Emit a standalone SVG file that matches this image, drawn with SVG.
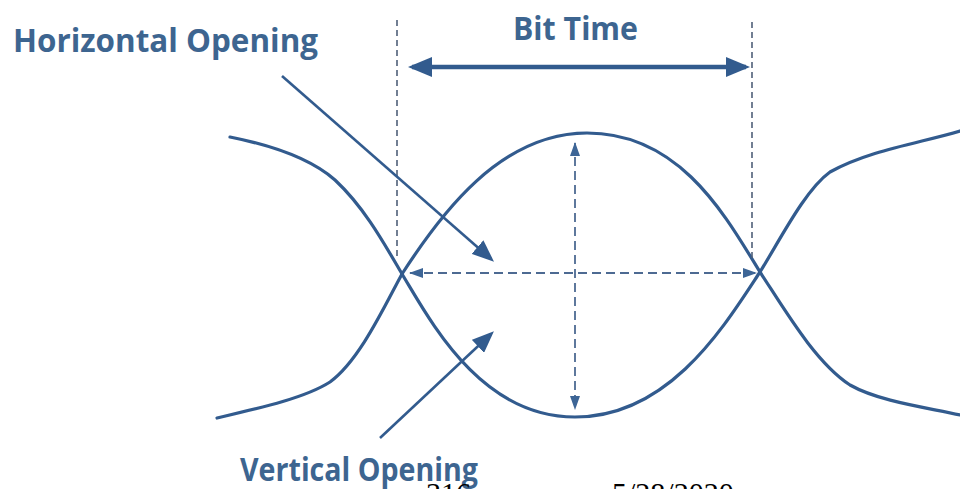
<svg xmlns="http://www.w3.org/2000/svg" width="960" height="489" viewBox="0 0 960 489">
<style>
.lbl{font-family:"Open Sans","Liberation Sans",sans-serif;font-weight:700;fill:#3d6590}
.foot{font-family:"Liberation Serif","Times New Roman",serif;fill:#000}
.wave{fill:none;stroke:#325b8e;stroke-width:3.2;stroke-linecap:round;stroke-linejoin:round}
.guide{fill:none;stroke:#4f5f78;stroke-width:1.6;stroke-dasharray:6 4}
.meas{fill:none;stroke:#4d6a92;stroke-width:1.8;stroke-dasharray:9 5}
.ptr{fill:none;stroke:#325b8e;stroke-width:2.6}
.bit{fill:none;stroke:#325b8e;stroke-width:4.5}
</style>
<defs>
<marker id="bigHead" markerUnits="userSpaceOnUse" markerWidth="24" markerHeight="20" refX="20" refY="10" orient="auto-start-reverse">
<path d="M0,0 L24,10 L0,20 Z" fill="#325b8e"/>
</marker>
<marker id="ptrHead" markerUnits="userSpaceOnUse" markerWidth="22" markerHeight="18" refX="18" refY="9" orient="auto">
<path d="M0,0 L22,9 L0,18 Z" fill="#325b8e"/>
</marker>
<marker id="smallHead" markerUnits="userSpaceOnUse" markerWidth="14" markerHeight="10" refX="13" refY="5" orient="auto-start-reverse">
<path d="M0,0 L14,5 L0,10 Z" fill="#3d6596"/>
</marker>
</defs>
<rect width="960" height="489" fill="#fff"/>

<g id="eye-diagram">
<path class="wave" d="M217,418 C260,408 305,398 330,382 C360,360 385,305 402,274 C440,215 500,133 587,133 C680,133 725,215 760,272 C785,310 815,362 850,385 C880,402 930,408 960,415"/>
<path class="wave" d="M230,137 C270,145 310,158 335,180 C365,208 385,245 402,274 C430,320 480,417 575,417 C670,417 725,325 760,272 C780,240 805,190 830,172 C870,150 920,143 960,131"/>
</g>

<g id="connectors">
<line class="guide" x1="397" y1="20" x2="397" y2="256"/>
<line class="guide" x1="752" y1="22" x2="752" y2="262"/>
<line class="bit" x1="412" y1="67" x2="746" y2="67" marker-start="url(#bigHead)" marker-end="url(#bigHead)"/>
<line class="meas" x1="410" y1="273" x2="756" y2="273" marker-start="url(#smallHead)" marker-end="url(#smallHead)"/>
<line class="meas" x1="575" y1="143" x2="575" y2="409" marker-start="url(#smallHead)" marker-end="url(#smallHead)"/>
<line class="ptr" x1="282" y1="76" x2="491" y2="259" marker-end="url(#ptrHead)"/>
<line class="ptr" x1="380" y1="438" x2="491" y2="334" marker-end="url(#ptrHead)"/>
</g>

<g id="label-horizontal">
<text class="lbl" x="13" y="52" font-size="33" textLength="305" lengthAdjust="spacingAndGlyphs">Horizontal Opening</text>
</g>
<g id="label-bittime">
<text class="lbl" x="513" y="40" font-size="32" textLength="125" lengthAdjust="spacingAndGlyphs">Bit Time</text>
</g>
<g id="label-vertical">
<text class="lbl" x="240" y="481" font-size="32" textLength="238" lengthAdjust="spacingAndGlyphs">Vertical Opening</text>
</g>
<g id="footer">
<text class="foot" x="426" y="503" font-size="30">316</text>
<text class="foot" x="612" y="503" font-size="30">5/28/2020</text>
</g>
</svg>
